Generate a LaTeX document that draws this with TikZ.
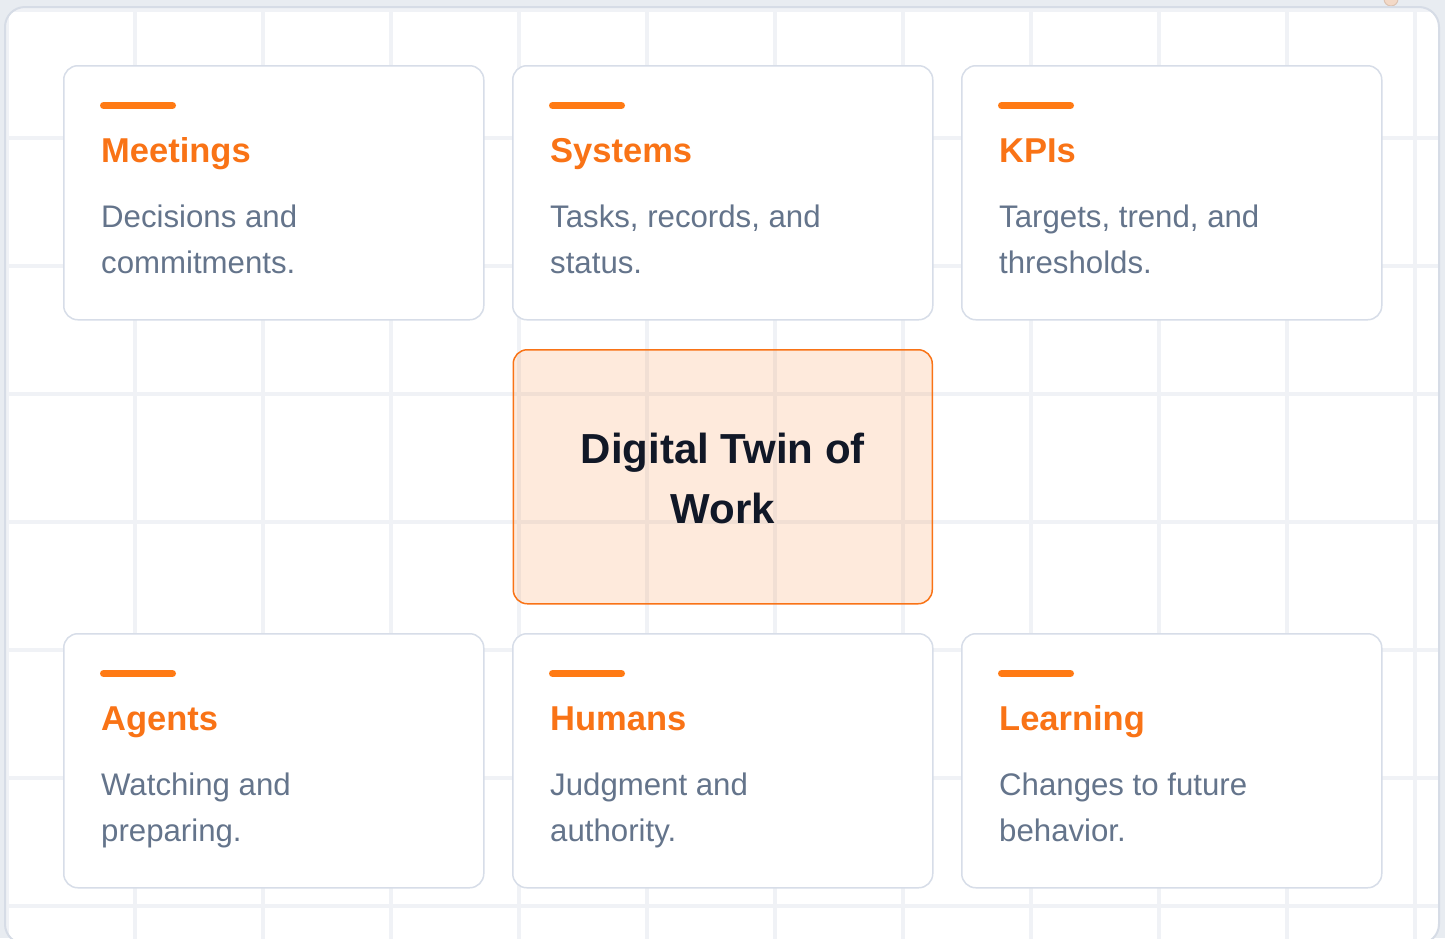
\documentclass[tikz,border=0pt]{standalone}
\usepackage{fontspec}
\setmainfont{Liberation Sans}
\definecolor{orng}{HTML}{F97316}
\definecolor{barc}{HTML}{FF7A14}
\definecolor{bodytxt}{HTML}{64748B}
\definecolor{cardline}{HTML}{D7DDE8}
\definecolor{gridc}{HTML}{F0F2F6}
\definecolor{outerbg}{HTML}{E8ECF1}
\definecolor{framec}{HTML}{D6DCE6}
\definecolor{ink}{HTML}{111827}
\definecolor{dotfill}{HTML}{F3D9C7}
\definecolor{dotline}{HTML}{DCC3B2}
\tikzset{
  cardbox/.style={draw=cardline, line width=1.5pt, fill=white, rounded corners=14pt,
    minimum width=420pt, minimum height=254pt, anchor=north west, inner sep=0pt},
  twinbox/.style={draw=orng, line width=1.5pt, fill=orng, fill opacity=0.15, text opacity=1,
    rounded corners=14pt, minimum width=419pt, minimum height=254pt, anchor=north west, inner sep=0pt},
  accent/.style={draw=barc, line width=7pt, line cap=round},
  cardtitle/.style={text=orng, font=\fontsize{34.5}{40}\selectfont\bfseries, anchor=base west, inner sep=0pt},
  cardbody/.style={text=bodytxt, font=\fontsize{31.2}{46}\selectfont, anchor=base west, inner sep=0pt},
  twintext/.style={text=ink, font=\fontsize{42}{60}\selectfont\bfseries, align=center, inner sep=0pt},
  gridline/.style={draw=gridc, line width=4pt}
}
\newcommand\mkcard[6]{%
  \node[cardbox] (#1) at (#2,#3) {};
  \draw[accent] ([shift={(40.5,40.5)}]#1.north west) -- ([shift={(109.5,40.5)}]#1.north west);
  \node[cardtitle] (#1-t) at ([shift={(38,97)}]#1.north west) {#4};
  \node[cardbody] (#1-a) at ([shift={(38,162)}]#1.north west) {#5};
  \node[cardbody] (#1-b) at ([shift={(38,208)}]#1.north west) {#6};
}
\begin{document}
\begin{tikzpicture}[x=1pt,y=-1pt]
\useasboundingbox (0,0) rectangle (1445,938);
\fill[outerbg] (0,0) rectangle (1445,938);
\draw[dotline, fill=dotfill, line width=1pt] (1391,-1) circle (7);
\fill[white, rounded corners=20pt] (5,7) rectangle (1439,944);
\begin{scope}
  \clip[rounded corners=20pt] (5,7) rectangle (1439,944);
  \foreach \gx in {7,135,...,1415} \draw[gridline] (\gx,0) -- (\gx,950);
  \foreach \gy in {10,138,...,906} \draw[gridline] (0,\gy) -- (1445,\gy);
\end{scope}
\draw[framec, line width=2pt, rounded corners=20pt] (5,7) rectangle (1439,944);

\mkcard{meet}{63}{65}{Meetings}{Decisions and}{commitments.}
\mkcard{sys}{512}{65}{Systems}{Tasks, records, and}{status.}
\mkcard{kpi}{961}{65}{KPIs}{Targets, trend, and}{thresholds.}
\mkcard{agt}{63}{633}{Agents}{Watching and}{preparing.}
\mkcard{hum}{512}{633}{Humans}{Judgment and}{authority.}
\mkcard{lrn}{961}{633}{Learning}{Changes to future}{behavior.}

\node[twinbox] (twin) at (512.5,349) {};
\node[twintext] (twin-t) at ([yshift=-2pt]twin.center) {Digital Twin of\\Work};
\end{tikzpicture}
\end{document}
